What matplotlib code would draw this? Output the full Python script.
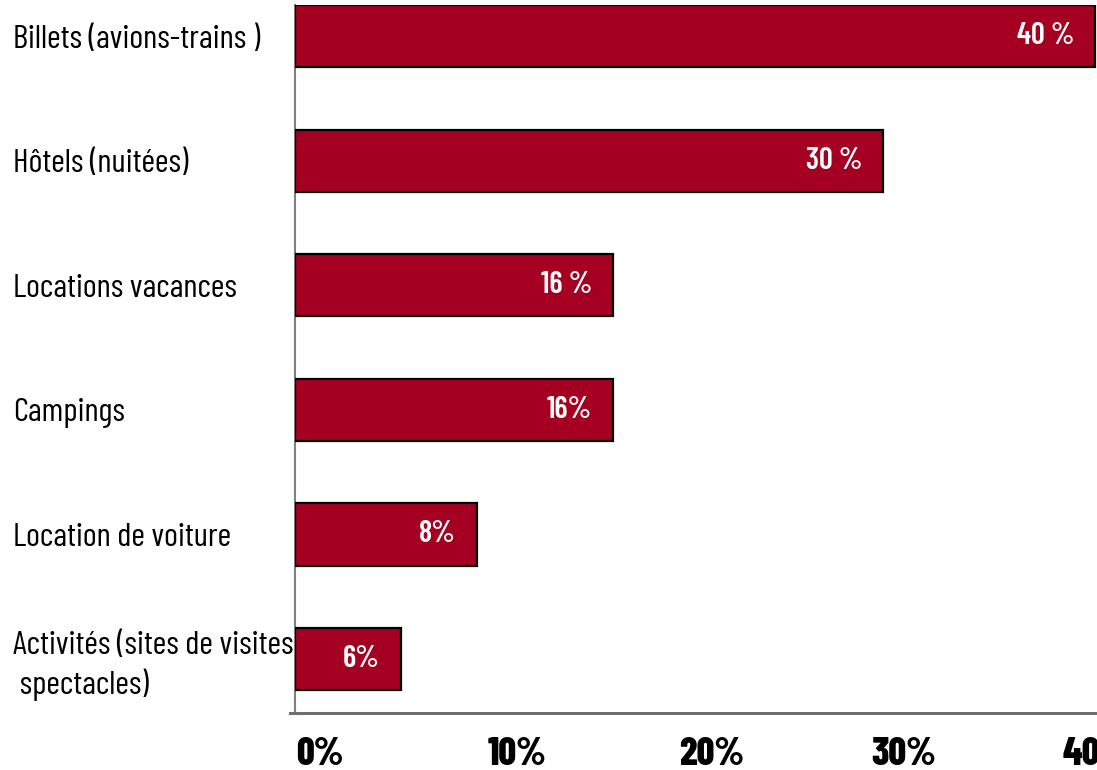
import matplotlib
matplotlib.use("Agg")
import matplotlib.pyplot as plt
import numpy as np

# postes de dépenses (haut -> bas)
categories = ["Billets (avions-trains )", "Hôtels (nuitées)", "Locations vacances",
              "Campings", "Location de voiture", "Activités (sites de visites,\n spectacles)"]
# longueur des barres (en %)
values = [40.0, 29.4, 15.9, 15.9, 9.1, 5.3]
bar_labels = ["40 %", "30 %", "16 %", "16%", "8%", "6%"]
tick_vals = [0, 10, 20, 30, 40]
tick_labels = ["0%", "10%", "20%", "30%", "40%"]

FONT = ["Barlow Condensed", "Roboto Condensed", "DejaVu Sans"]
RED = "#A50021"

W, H = 1097, 770
fig = plt.figure(figsize=(W / 100, H / 100), dpi=100)
ax = fig.add_axes([295 / W, (H - 713) / H, 802 / W, (713 - 5) / H])

y = np.arange(len(categories))
ax.barh(y, values, height=0.5, color=RED, edgecolor="black", linewidth=1.6, zorder=3)
ax.set_xlim(0, 40.1)
ax.set_ylim(5.433, -0.25)

# étiquettes dans les barres, calées à droite
for yi, v, lab in zip(y, values, bar_labels):
    ax.annotate(lab, (v, yi), xytext=(-21, 0), textcoords="offset pixels",
                ha="right", va="center", color="white", fontsize=22,
                family=FONT, weight="semibold", zorder=4)

ax.set_yticks(y)
ax.set_yticklabels(categories, family=FONT, fontsize=24, ha="left")
ax.tick_params(axis="y", length=0, pad=(295 - 13) * 0.72)
for t in ax.get_yticklabels():
    t.set_linespacing(1.3)
ax.set_xticks([])

for s in ["top", "right"]:
    ax.spines[s].set_visible(False)
ax.spines["left"].set_color("#7f7f7f")
ax.spines["left"].set_linewidth(1.5)
ax.spines["bottom"].set_color("#6f6f6f")
ax.spines["bottom"].set_linewidth(2.2)
ax.plot([-0.006, 0], [0, 0], transform=ax.transAxes, color="#6f6f6f", lw=2.2, clip_on=False)

# graduations : échelle propre au texte de l'axe (décalée comme sur l'original)
ax2 = ax.twiny()
ax2.set_xlim(-0.052, 41.77)
ax2.xaxis.set_ticks_position("bottom")
ax2.set_xticks(tick_vals)
ax2.set_xticklabels(tick_labels, family=FONT, fontsize=28, weight=800, ha="left")
ax2.tick_params(axis="x", length=0, pad=17)
for s in ax2.spines.values():
    s.set_visible(False)

fig.savefig("out.png", dpi=100)
